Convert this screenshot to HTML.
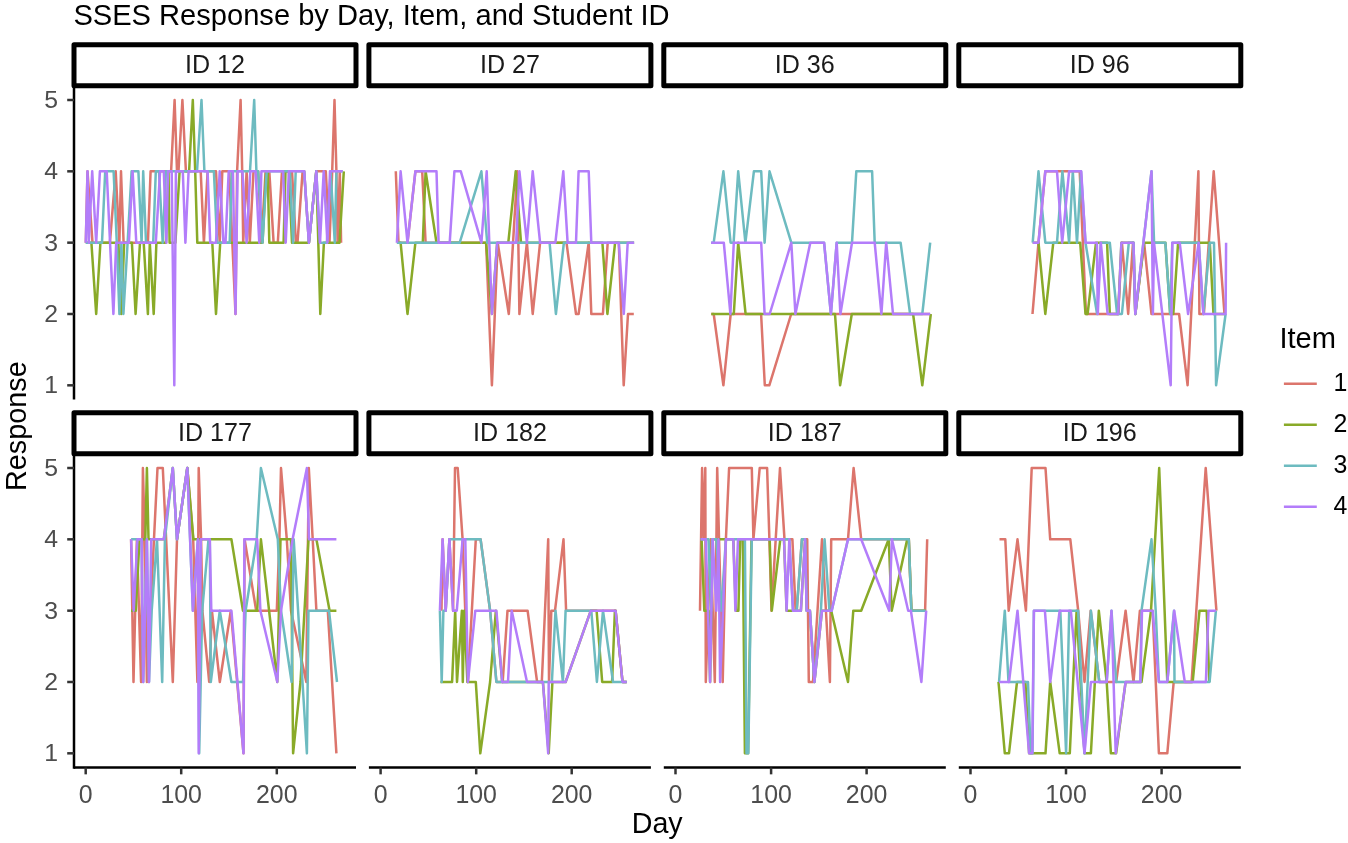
<!DOCTYPE html>
<html lang="en"><head><meta charset="utf-8"><title>SSES Response by Day, Item, and Student ID</title>
<style>html,body{margin:0;padding:0;background:#fff}svg{display:block}text{font-family:"Liberation Sans",Arial,sans-serif}</style></head><body>
<svg width="1348" height="843" viewBox="0 0 1348 843">
<rect width="1348" height="843" fill="#fff"/>
<text x="73.4" y="24.9" font-size="29.1" fill="#000">SSES Response by Day, Item, and Student ID</text>
<g fill="none" stroke-width="2.5" stroke-linejoin="round" stroke-linecap="butt">
<path d="M85.8 242.7 L87.5 171.3 L92.5 242.7 L109.9 242.7 L115.7 171.3 L119.4 242.7 L121.0 171.3 L123.6 242.7 L147.9 242.7 L150.6 171.3 L171.1 171.3 L174.6 100.0 L177.0 171.3 L178.5 171.3 L182.4 100.0 L185.9 171.3 L200.7 171.3 L203.9 242.7 L207.6 171.3 L216.0 171.3 L219.7 242.7 L222.3 171.3 L229.2 171.3 L235.5 314.0 L237.1 171.3 L240.6 100.0 L242.2 171.3 L243.2 242.7 L246.6 171.3 L249.8 242.7 L253.5 171.3 L258.2 171.3 L261.4 242.7 L265.6 171.3 L269.3 171.3 L273.6 242.7 L277.8 242.7 L282.0 171.3 L292.0 171.3 L295.9 242.7 L297.5 242.7 L302.6 171.3 L304.2 171.3 L308.9 242.7 L316.3 171.3 L325.8 171.3 L329.5 242.7 L332.2 171.3 L334.5 100.0 L336.4 171.3 L337.6 242.7 L339.8 171.3 L341.1 242.7" stroke="#DC756C"/>
<path d="M85.8 242.7 L91.4 242.7 L96.2 314.0 L100.4 242.7 L118.4 242.7 L121.2 314.0 L124.2 242.7 L131.9 242.7 L135.6 314.0 L140.0 242.7 L143.7 242.7 L147.9 314.0 L149.8 242.7 L153.7 314.0 L156.4 242.7 L165.9 242.7 L168.5 171.3 L169.6 242.7 L175.4 242.7 L179.6 171.3 L189.1 171.3 L192.8 100.0 L195.2 171.3 L197.3 242.7 L212.3 242.7 L216.0 314.0 L220.2 242.7 L262.5 242.7 L266.2 171.3 L267.7 171.3 L269.3 242.7 L283.6 242.7 L285.5 171.3 L288.9 171.3 L292.0 242.7 L308.9 242.7 L316.3 171.3 L320.3 314.0 L323.9 242.7 L339.5 242.7 L343.8 171.3" stroke="#89AA28"/>
<path d="M85.8 242.7 L102.0 242.7 L105.2 171.3 L113.6 171.3 L116.8 242.7 L119.4 314.0 L121.4 242.7 L123.4 314.0 L127.6 242.7 L131.6 171.3 L138.4 171.3 L141.6 242.7 L143.2 171.3 L146.0 242.7 L153.2 242.7 L155.8 171.3 L159.0 171.3 L162.7 242.7 L165.9 171.3 L197.0 171.3 L201.5 100.0 L204.4 171.3 L213.9 171.3 L217.1 242.7 L229.7 242.7 L231.8 171.3 L250.0 171.3 L254.2 100.0 L256.4 171.3 L258.2 171.3 L262.5 242.7 L266.7 171.3 L289.9 171.3 L293.1 242.7 L295.7 171.3 L304.2 171.3 L308.9 242.7 L316.3 171.3 L320.0 242.7 L326.9 242.7 L330.6 171.3 L334.8 242.7 L336.4 171.3 L342.7 171.3" stroke="#6DBBC0"/>
<path d="M85.8 242.7 L87.5 171.3 L88.8 242.7 L92.2 171.3 L96.2 242.7 L99.9 171.3 L106.7 171.3 L113.4 314.0 L116.2 242.7 L128.9 242.7 L132.6 171.3 L136.3 242.7 L155.8 242.7 L160.1 171.3 L163.8 171.3 L166.4 242.7 L168.0 171.3 L171.7 171.3 L174.3 385.3 L175.9 171.3 L182.8 171.3 L185.4 242.7 L188.6 171.3 L207.6 171.3 L210.2 242.7 L216.0 242.7 L219.7 171.3 L223.4 242.7 L225.5 242.7 L228.7 171.3 L232.9 171.3 L235.5 314.0 L237.6 171.3 L242.4 171.3 L246.6 242.7 L250.3 171.3 L255.6 171.3 L259.3 242.7 L261.4 171.3 L283.1 171.3 L285.7 242.7 L288.9 171.3 L304.2 171.3 L308.9 242.7 L316.3 171.3 L320.0 242.7 L323.7 171.3 L327.4 242.7 L330.0 171.3 L342.7 171.3" stroke="#B37DFA"/>
</g>
<g fill="none" stroke-width="2.5" stroke-linejoin="round" stroke-linecap="butt">
<path d="M395.8 171.3 L398.5 242.7 L407.5 242.7 L415.4 171.3 L422.2 171.3 L425.6 242.7 L486.1 242.7 L491.9 385.3 L497.7 242.7 L508.8 314.0 L517.3 171.3 L519.4 314.0 L526.9 242.7 L532.7 314.0 L540.1 242.7 L566.5 242.7 L576.0 314.0 L578.6 314.0 L588.7 242.7 L591.3 314.0 L602.9 314.0 L607.7 242.7 L618.8 242.7 L623.7 385.3 L628.0 314.0 L633.8 314.0" stroke="#DC756C"/>
<path d="M396.9 242.7 L400.6 242.7 L407.5 314.0 L415.4 242.7 L422.8 242.7 L425.6 171.3 L436.5 242.7 L486.1 242.7 L491.9 314.0 L497.2 242.7 L508.3 242.7 L515.7 171.3 L521.0 242.7 L602.4 242.7 L607.4 314.0 L615.1 242.7 L634.1 242.7" stroke="#89AA28"/>
<path d="M396.9 242.7 L459.7 242.7 L481.4 171.3 L487.2 242.7 L549.6 242.7 L555.9 314.0 L563.9 242.7 L634.1 242.7" stroke="#6DBBC0"/>
<path d="M396.9 242.7 L400.6 171.3 L407.5 242.7 L415.4 171.3 L436.5 171.3 L438.6 242.7 L449.7 242.7 L454.4 171.3 L460.8 171.3 L481.4 242.7 L486.7 171.3 L491.9 314.0 L497.2 242.7 L516.2 242.7 L519.4 171.3 L526.9 242.7 L532.7 171.3 L540.1 242.7 L555.4 242.7 L563.3 171.3 L567.6 242.7 L576.0 242.7 L578.6 171.3 L588.7 171.3 L591.3 242.7 L618.8 242.7 L623.8 314.0 L627.7 242.7 L634.1 242.7" stroke="#B37DFA"/>
</g>
<g fill="none" stroke-width="2.5" stroke-linejoin="round" stroke-linecap="butt">
<path d="M711.3 314.0 L713.7 314.0 L723.4 385.3 L730.7 314.0 L761.1 314.0 L764.8 385.3 L769.3 385.3 L791.2 314.0 L930.0 314.0" stroke="#DC756C"/>
<path d="M711.3 314.0 L733.8 314.0 L738.2 242.7 L745.6 314.0 L835.0 314.0 L840.1 385.3 L851.8 314.0 L913.1 314.0 L922.3 385.3 L930.8 314.0" stroke="#89AA28"/>
<path d="M711.1 242.7 L713.7 242.7 L723.4 171.3 L730.6 242.7 L733.6 242.7 L738.2 171.3 L745.4 242.7 L753.9 171.3 L761.2 171.3 L764.6 242.7 L769.5 171.3 L791.3 242.7 L824.1 242.7 L830.9 314.0 L836.7 242.7 L852.0 242.7 L856.3 171.3 L872.1 171.3 L874.7 242.7 L900.6 242.7 L910.1 314.0 L922.3 314.0 L930.2 242.7" stroke="#6DBBC0"/>
<path d="M711.1 242.7 L723.8 242.7 L730.4 314.0 L733.8 242.7 L761.2 242.7 L764.6 314.0 L769.7 314.0 L791.3 242.7 L795.4 314.0 L810.3 242.7 L824.1 242.7 L830.9 314.0 L836.7 242.7 L840.4 314.0 L840.4 314.0 L852.0 242.7 L874.7 242.7 L881.4 314.0 L886.2 242.7 L893.0 314.0 L930.2 314.0" stroke="#B37DFA"/>
</g>
<g fill="none" stroke-width="2.5" stroke-linejoin="round" stroke-linecap="butt">
<path d="M1032.5 314.0 L1038.5 242.7 L1045.3 171.3 L1079.7 171.3 L1086.0 314.0 L1118.2 314.0 L1121.9 242.7 L1128.2 314.0 L1133.0 242.7 L1135.3 314.0 L1144.1 242.7 L1151.5 314.0 L1151.5 314.0 L1179.1 314.0 L1187.6 385.3 L1198.4 171.3 L1199.4 314.0 L1203.9 314.0 L1213.7 171.3 L1224.5 314.0" stroke="#DC756C"/>
<path d="M1032.7 242.7 L1038.5 242.7 L1045.3 314.0 L1053.3 242.7 L1080.2 242.7 L1085.5 314.0 L1087.6 314.0 L1096.0 242.7 L1107.1 242.7 L1109.8 314.0 L1118.2 314.0 L1121.4 242.7 L1133.5 242.7 L1135.3 314.0 L1144.1 242.7 L1151.5 242.7 L1151.5 242.7 L1165.4 242.7 L1170.2 314.0 L1173.3 314.0 L1178.1 242.7 L1209.8 242.7 L1213.5 314.0 L1225.6 314.0" stroke="#89AA28"/>
<path d="M1032.7 242.7 L1038.5 171.3 L1045.3 242.7 L1057.0 242.7 L1062.4 171.3 L1069.1 242.7 L1072.8 171.3 L1077.0 242.7 L1081.0 171.3 L1085.5 242.7 L1097.1 314.0 L1100.8 242.7 L1109.8 242.7 L1117.1 314.0 L1121.9 314.0 L1128.8 242.7 L1133.5 242.7 L1135.3 314.0 L1151.5 171.3 L1151.5 171.3 L1154.1 242.7 L1165.4 242.7 L1170.2 314.0 L1172.3 242.7 L1198.7 242.7 L1203.4 314.0 L1209.8 242.7 L1214.0 242.7 L1216.1 385.3 L1225.6 314.0" stroke="#6DBBC0"/>
<path d="M1032.7 242.7 L1038.5 242.7 L1045.3 171.3 L1057.0 171.3 L1062.2 242.7 L1069.1 171.3 L1081.2 171.3 L1085.5 242.7 L1096.9 242.7 L1097.8 314.0 L1100.8 242.7 L1107.6 314.0 L1118.2 314.0 L1121.4 242.7 L1133.5 242.7 L1135.3 314.0 L1151.5 171.3 L1151.5 171.3 L1152.9 314.0 L1154.0 242.7 L1170.7 385.3 L1172.3 242.7 L1179.7 242.7 L1188.1 314.0 L1198.7 242.7 L1203.4 314.0 L1225.6 314.0 L1226.1 242.7" stroke="#B37DFA"/>
</g>
<g fill="none" stroke-width="2.5" stroke-linejoin="round" stroke-linecap="butt">
<path d="M131.1 539.3 L133.5 682.0 L136.9 539.3 L141.1 682.0 L142.9 468.0 L144.8 539.3 L146.9 682.0 L157.5 468.0 L162.8 468.0 L172.8 682.0 L177.0 539.3 L187.3 468.0 L193.2 539.3 L197.4 682.0 L198.7 468.0 L201.1 539.3 L202.4 610.7 L209.2 682.0 L211.9 610.7 L219.8 682.0 L230.8 610.7 L243.5 753.3 L244.6 539.3 L256.2 610.7 L276.8 610.7 L279.4 539.3 L281.0 468.0 L286.8 539.3 L291.0 610.7 L306.3 682.0 L308.8 468.0 L312.7 539.3 L316.4 610.7 L327.8 610.7 L336.4 753.3" stroke="#DC756C"/>
<path d="M131.1 610.7 L135.8 610.7 L139.5 539.3 L145.3 539.3 L146.9 468.0 L148.5 539.3 L163.8 539.3 L172.8 468.0 L177.0 539.3 L187.3 468.0 L193.4 539.3 L231.4 539.3 L243.0 610.7 L257.2 610.7 L260.9 539.3 L277.3 682.0 L280.5 539.3 L291.0 539.3 L293.1 753.3 L300.5 682.0 L308.5 539.3 L316.4 539.3 L329.6 610.7 L336.4 610.7" stroke="#89AA28"/>
<path d="M131.1 539.3 L141.6 539.3 L143.2 682.0 L146.9 539.3 L149.0 682.0 L151.7 610.7 L157.0 539.3 L162.2 682.0 L164.9 539.3 L172.8 468.0 L177.0 539.3 L187.3 468.0 L192.9 610.7 L197.9 539.3 L199.2 753.3 L202.2 610.7 L208.5 539.3 L209.8 539.3 L210.8 682.0 L219.8 610.7 L231.4 682.0 L243.0 682.0 L245.6 610.7 L256.7 539.3 L260.9 468.0 L277.8 539.3 L281.0 610.7 L291.6 682.0 L293.7 539.3 L306.9 753.3 L308.5 610.7 L329.0 610.7 L337.0 682.0" stroke="#6DBBC0"/>
<path d="M131.1 539.3 L133.7 610.7 L137.4 539.3 L141.6 539.3 L143.2 682.0 L146.9 539.3 L149.0 682.0 L151.2 539.3 L163.8 539.3 L172.8 468.0 L177.0 539.3 L187.3 468.0 L192.9 610.7 L197.9 539.3 L198.7 753.3 L200.8 539.3 L209.8 539.3 L211.3 610.7 L231.4 610.7 L243.5 753.3 L244.4 539.3 L257.2 539.3 L260.4 610.7 L277.3 682.0 L281.0 610.7 L292.6 539.3 L306.9 468.0 L309.0 539.3 L336.4 539.3" stroke="#B37DFA"/>
</g>
<g fill="none" stroke-width="2.5" stroke-linejoin="round" stroke-linecap="butt">
<path d="M441.5 610.7 L442.6 539.3 L445.7 610.7 L449.4 539.3 L453.1 610.7 L455.0 468.0 L457.7 468.0 L462.6 539.3 L467.9 682.0 L475.8 539.3 L480.6 539.3 L490.1 610.7 L496.4 682.0 L502.7 682.0 L507.5 610.7 L527.6 610.7 L537.1 682.0 L541.8 682.0 L548.2 539.3 L549.0 682.0 L551.3 610.7 L555.0 610.7 L563.5 539.3 L566.1 610.7 L615.6 610.7 L622.5 682.0 L626.7 682.0" stroke="#DC756C"/>
<path d="M440.4 682.0 L452.1 682.0 L455.2 610.7 L457.0 682.0 L461.9 610.7 L462.8 682.0 L464.2 610.7 L467.4 682.0 L475.8 682.0 L480.3 753.3 L490.1 682.0 L495.9 610.7 L502.2 682.0 L542.9 682.0 L548.7 753.3 L552.4 682.0 L565.6 682.0 L590.8 610.7 L596.6 610.7 L602.2 682.0 L612.1 682.0 L614.9 610.7 L615.6 610.7 L622.5 682.0 L626.7 682.0" stroke="#89AA28"/>
<path d="M439.9 610.7 L441.7 682.0 L443.4 610.7 L445.7 610.7 L449.4 539.3 L480.6 539.3 L490.1 610.7 L496.4 682.0 L551.9 682.0 L555.5 610.7 L562.9 682.0 L565.6 610.7 L591.3 610.7 L596.9 682.0 L603.0 610.7 L613.0 682.0 L626.7 682.0" stroke="#6DBBC0"/>
<path d="M439.9 610.7 L442.6 539.3 L445.7 610.7 L449.4 539.3 L453.1 610.7 L456.8 610.7 L462.6 539.3 L465.3 539.3 L467.9 682.0 L475.3 610.7 L496.4 610.7 L502.2 682.0 L508.0 682.0 L511.7 610.7 L527.0 682.0 L542.9 682.0 L548.2 753.3 L548.7 682.0 L565.6 682.0 L590.8 610.7 L615.6 610.7 L622.5 682.0 L626.7 682.0" stroke="#B37DFA"/>
</g>
<g fill="none" stroke-width="2.5" stroke-linejoin="round" stroke-linecap="butt">
<path d="M700.0 610.7 L702.1 468.0 L703.7 539.3 L705.3 468.0 L705.8 682.0 L710.6 539.3 L714.8 682.0 L717.2 468.0 L722.7 682.0 L725.9 539.3 L729.1 468.0 L751.8 468.0 L753.4 539.3 L759.7 468.0 L767.1 468.0 L769.4 539.3 L771.5 610.7 L775.7 539.3 L780.0 468.0 L784.5 539.3 L792.4 539.3 L795.6 610.7 L796.7 610.7 L801.9 539.3 L807.2 539.3 L808.8 682.0 L813.0 682.0 L822.0 539.3 L829.9 682.0 L831.2 539.3 L848.0 539.3 L853.6 468.0 L861.2 539.3 L908.8 539.3 L911.4 610.7 L925.1 610.7 L927.2 539.3" stroke="#DC756C"/>
<path d="M700.6 539.3 L701.6 539.3 L704.3 610.7 L708.5 610.7 L710.1 682.0 L712.7 539.3 L733.3 539.3 L735.9 610.7 L738.4 610.7 L740.2 539.3 L742.8 539.3 L744.9 753.3 L748.1 753.3 L751.5 539.3 L769.7 539.3 L771.8 610.7 L780.3 539.3 L784.0 539.3 L786.6 610.7 L800.9 610.7 L805.1 539.3 L806.7 610.7 L809.9 610.7 L814.4 682.0 L822.0 610.7 L831.2 610.7 L848.0 682.0 L853.3 610.7 L861.2 610.7 L888.7 539.3 L891.7 610.7 L907.2 539.3 L908.8 539.3 L911.4 610.7 L926.2 610.7" stroke="#89AA28"/>
<path d="M700.6 539.3 L708.5 539.3 L711.1 610.7 L712.2 539.3 L716.4 539.3 L721.2 610.7 L725.9 539.3 L744.9 539.3 L746.5 753.3 L748.3 753.3 L751.8 539.3 L789.3 539.3 L793.0 610.7 L796.7 610.7 L801.9 539.3 L805.1 539.3 L806.7 610.7 L809.9 610.7 L814.4 682.0 L820.9 610.7 L824.6 539.3 L829.4 610.7 L831.7 610.7 L848.0 539.3 L908.8 539.3 L911.4 610.7 L925.7 610.7" stroke="#6DBBC0"/>
<path d="M700.6 539.3 L705.8 539.3 L710.1 682.0 L712.7 539.3 L716.4 610.7 L718.5 539.3 L720.1 682.0 L725.9 539.3 L733.3 539.3 L735.4 610.7 L738.0 539.3 L784.0 539.3 L786.6 610.7 L789.3 539.3 L793.0 610.7 L800.9 610.7 L805.1 539.3 L806.7 610.7 L809.9 610.7 L814.4 682.0 L822.0 610.7 L831.7 610.7 L848.0 539.3 L861.2 539.3 L889.2 610.7 L891.9 539.3 L908.2 610.7 L910.9 610.7 L921.4 682.0 L926.2 610.7" stroke="#B37DFA"/>
</g>
<g fill="none" stroke-width="2.5" stroke-linejoin="round" stroke-linecap="butt">
<path d="M999.5 539.3 L1005.3 539.3 L1008.7 610.7 L1017.5 539.3 L1025.9 610.7 L1031.7 468.0 L1045.5 468.0 L1050.2 539.3 L1070.3 539.3 L1078.2 610.7 L1084.5 682.0 L1090.7 610.7 L1099.3 682.0 L1116.2 682.0 L1125.6 610.7 L1133.5 682.0 L1139.9 610.7 L1152.6 610.7 L1158.9 753.3 L1167.3 753.3 L1173.7 682.0 L1191.6 682.0 L1205.7 468.0 L1216.4 610.7" stroke="#DC756C"/>
<path d="M998.5 682.0 L1004.8 753.3 L1009.0 753.3 L1017.0 682.0 L1025.4 682.0 L1029.1 753.3 L1045.5 753.3 L1050.2 682.0 L1059.7 753.3 L1069.8 753.3 L1073.1 682.0 L1076.6 610.7 L1084.5 753.3 L1090.9 753.3 L1098.8 610.7 L1106.7 682.0 L1110.9 753.3 L1115.7 753.3 L1116.1 753.3 L1125.6 682.0 L1141.5 682.0 L1151.0 610.7 L1159.2 468.0 L1167.3 682.0 L1192.7 682.0 L1199.5 610.7 L1206.7 610.7 L1209.3 682.0" stroke="#89AA28"/>
<path d="M999.0 682.0 L1004.8 610.7 L1008.5 682.0 L1028.0 682.0 L1030.7 753.3 L1032.5 753.3 L1033.9 610.7 L1060.3 610.7 L1066.1 753.3 L1069.2 610.7 L1078.2 610.7 L1084.5 753.3 L1090.9 610.7 L1099.3 682.0 L1106.7 682.0 L1111.5 610.7 L1116.2 682.0 L1124.6 682.0 L1140.4 682.0 L1141.5 610.7 L1151.5 539.3 L1155.7 610.7 L1158.9 682.0 L1167.3 682.0 L1174.0 610.7 L1174.5 682.0 L1209.6 682.0 L1215.9 610.7" stroke="#6DBBC0"/>
<path d="M999.0 682.0 L1009.0 682.0 L1017.5 610.7 L1029.1 753.3 L1032.3 753.3 L1033.9 610.7 L1044.9 610.7 L1050.2 682.0 L1059.7 610.7 L1070.8 610.7 L1084.5 753.3 L1090.9 682.0 L1106.7 682.0 L1111.5 610.7 L1115.7 753.3 L1125.6 682.0 L1140.4 682.0 L1142.0 610.7 L1152.6 610.7 L1158.9 682.0 L1167.3 682.0 L1174.2 610.7 L1184.8 682.0 L1205.9 682.0 L1208.5 610.7 L1215.9 610.7" stroke="#B37DFA"/>
</g>
<line x1="74" x2="74" y1="85.75" y2="399.6" stroke="#000" stroke-width="2.5"/>
<line x1="67.2" x2="74" y1="385.32" y2="385.32" stroke="#333" stroke-width="2.5"/>
<text x="58.1" y="393.2" font-size="24.8" fill="#4D4D4D" text-anchor="end">1</text>
<line x1="67.2" x2="74" y1="313.99" y2="313.99" stroke="#333" stroke-width="2.5"/>
<text x="58.1" y="321.9" font-size="24.8" fill="#4D4D4D" text-anchor="end">2</text>
<line x1="67.2" x2="74" y1="242.66" y2="242.66" stroke="#333" stroke-width="2.5"/>
<text x="58.1" y="250.6" font-size="24.8" fill="#4D4D4D" text-anchor="end">3</text>
<line x1="67.2" x2="74" y1="171.33" y2="171.33" stroke="#333" stroke-width="2.5"/>
<text x="58.1" y="179.2" font-size="24.8" fill="#4D4D4D" text-anchor="end">4</text>
<line x1="67.2" x2="74" y1="100.00" y2="100.00" stroke="#333" stroke-width="2.5"/>
<text x="58.1" y="107.9" font-size="24.8" fill="#4D4D4D" text-anchor="end">5</text>
<line x1="74" x2="74" y1="453.75" y2="768.8" stroke="#000" stroke-width="2.5"/>
<line x1="67.2" x2="74" y1="753.32" y2="753.32" stroke="#333" stroke-width="2.5"/>
<text x="58.1" y="761.2" font-size="24.8" fill="#4D4D4D" text-anchor="end">1</text>
<line x1="67.2" x2="74" y1="681.99" y2="681.99" stroke="#333" stroke-width="2.5"/>
<text x="58.1" y="689.9" font-size="24.8" fill="#4D4D4D" text-anchor="end">2</text>
<line x1="67.2" x2="74" y1="610.66" y2="610.66" stroke="#333" stroke-width="2.5"/>
<text x="58.1" y="618.6" font-size="24.8" fill="#4D4D4D" text-anchor="end">3</text>
<line x1="67.2" x2="74" y1="539.33" y2="539.33" stroke="#333" stroke-width="2.5"/>
<text x="58.1" y="547.2" font-size="24.8" fill="#4D4D4D" text-anchor="end">4</text>
<line x1="67.2" x2="74" y1="468.00" y2="468.00" stroke="#333" stroke-width="2.5"/>
<text x="58.1" y="475.9" font-size="24.8" fill="#4D4D4D" text-anchor="end">5</text>
<line x1="74.0" x2="356.0" y1="767.55" y2="767.55" stroke="#000" stroke-width="2.5"/>
<line x1="85.7" x2="85.7" y1="767.55" y2="774.35" stroke="#333" stroke-width="2.5"/>
<text x="85.7" y="802.8" font-size="24.9" fill="#4D4D4D" text-anchor="middle">0</text>
<line x1="181.2" x2="181.2" y1="767.55" y2="774.35" stroke="#333" stroke-width="2.5"/>
<text x="181.2" y="802.8" font-size="24.9" fill="#4D4D4D" text-anchor="middle">100</text>
<line x1="276.8" x2="276.8" y1="767.55" y2="774.35" stroke="#333" stroke-width="2.5"/>
<text x="276.8" y="802.8" font-size="24.9" fill="#4D4D4D" text-anchor="middle">200</text>
<line x1="368.9" x2="650.9" y1="767.55" y2="767.55" stroke="#000" stroke-width="2.5"/>
<line x1="380.6" x2="380.6" y1="767.55" y2="774.35" stroke="#333" stroke-width="2.5"/>
<text x="380.6" y="802.8" font-size="24.9" fill="#4D4D4D" text-anchor="middle">0</text>
<line x1="476.2" x2="476.2" y1="767.55" y2="774.35" stroke="#333" stroke-width="2.5"/>
<text x="476.2" y="802.8" font-size="24.9" fill="#4D4D4D" text-anchor="middle">100</text>
<line x1="571.7" x2="571.7" y1="767.55" y2="774.35" stroke="#333" stroke-width="2.5"/>
<text x="571.7" y="802.8" font-size="24.9" fill="#4D4D4D" text-anchor="middle">200</text>
<line x1="663.8" x2="945.8" y1="767.55" y2="767.55" stroke="#000" stroke-width="2.5"/>
<line x1="675.5" x2="675.5" y1="767.55" y2="774.35" stroke="#333" stroke-width="2.5"/>
<text x="675.5" y="802.8" font-size="24.9" fill="#4D4D4D" text-anchor="middle">0</text>
<line x1="771.1" x2="771.1" y1="767.55" y2="774.35" stroke="#333" stroke-width="2.5"/>
<text x="771.1" y="802.8" font-size="24.9" fill="#4D4D4D" text-anchor="middle">100</text>
<line x1="866.6" x2="866.6" y1="767.55" y2="774.35" stroke="#333" stroke-width="2.5"/>
<text x="866.6" y="802.8" font-size="24.9" fill="#4D4D4D" text-anchor="middle">200</text>
<line x1="958.8" x2="1240.8" y1="767.55" y2="767.55" stroke="#000" stroke-width="2.5"/>
<line x1="970.5" x2="970.5" y1="767.55" y2="774.35" stroke="#333" stroke-width="2.5"/>
<text x="970.5" y="802.8" font-size="24.9" fill="#4D4D4D" text-anchor="middle">0</text>
<line x1="1066.0" x2="1066.0" y1="767.55" y2="774.35" stroke="#333" stroke-width="2.5"/>
<text x="1066.0" y="802.8" font-size="24.9" fill="#4D4D4D" text-anchor="middle">100</text>
<line x1="1161.6" x2="1161.6" y1="767.55" y2="774.35" stroke="#333" stroke-width="2.5"/>
<text x="1161.6" y="802.8" font-size="24.9" fill="#4D4D4D" text-anchor="middle">200</text>
<rect x="74.0" y="44.75" width="282.0" height="41.00" fill="#fff" stroke="#000" stroke-width="5" stroke-linejoin="round"/>
<text x="215.0" y="72.80" font-size="25.1" fill="#1A1A1A" text-anchor="middle">ID 12</text>
<rect x="368.9" y="44.75" width="282.0" height="41.00" fill="#fff" stroke="#000" stroke-width="5" stroke-linejoin="round"/>
<text x="509.9" y="72.80" font-size="25.1" fill="#1A1A1A" text-anchor="middle">ID 27</text>
<rect x="663.8" y="44.75" width="282.0" height="41.00" fill="#fff" stroke="#000" stroke-width="5" stroke-linejoin="round"/>
<text x="804.8" y="72.80" font-size="25.1" fill="#1A1A1A" text-anchor="middle">ID 36</text>
<rect x="958.8" y="44.75" width="282.0" height="41.00" fill="#fff" stroke="#000" stroke-width="5" stroke-linejoin="round"/>
<text x="1099.8" y="72.80" font-size="25.1" fill="#1A1A1A" text-anchor="middle">ID 96</text>
<rect x="74.0" y="412.75" width="282.0" height="41.00" fill="#fff" stroke="#000" stroke-width="5" stroke-linejoin="round"/>
<text x="215.0" y="440.80" font-size="25.1" fill="#1A1A1A" text-anchor="middle">ID 177</text>
<rect x="368.9" y="412.75" width="282.0" height="41.00" fill="#fff" stroke="#000" stroke-width="5" stroke-linejoin="round"/>
<text x="509.9" y="440.80" font-size="25.1" fill="#1A1A1A" text-anchor="middle">ID 182</text>
<rect x="663.8" y="412.75" width="282.0" height="41.00" fill="#fff" stroke="#000" stroke-width="5" stroke-linejoin="round"/>
<text x="804.8" y="440.80" font-size="25.1" fill="#1A1A1A" text-anchor="middle">ID 187</text>
<rect x="958.8" y="412.75" width="282.0" height="41.00" fill="#fff" stroke="#000" stroke-width="5" stroke-linejoin="round"/>
<text x="1099.8" y="440.80" font-size="25.1" fill="#1A1A1A" text-anchor="middle">ID 196</text>
<text x="657.2" y="832.7" font-size="28.6" fill="#000" text-anchor="middle">Day</text>
<text transform="translate(26.2,426.2) rotate(-90)" font-size="28.8" fill="#000" text-anchor="middle">Response</text>
<text x="1279.4" y="347.5" font-size="29.1" fill="#000">Item</text>
<line x1="1283.9" x2="1316.8" y1="383.75" y2="383.75" stroke="#DC756C" stroke-width="2.5"/>
<text x="1333.4" y="391.35" font-size="24.9" fill="#000">1</text>
<line x1="1283.9" x2="1316.8" y1="424.75" y2="424.75" stroke="#89AA28" stroke-width="2.5"/>
<text x="1333.4" y="432.35" font-size="24.9" fill="#000">2</text>
<line x1="1283.9" x2="1316.8" y1="465.75" y2="465.75" stroke="#6DBBC0" stroke-width="2.5"/>
<text x="1333.4" y="473.35" font-size="24.9" fill="#000">3</text>
<line x1="1283.9" x2="1316.8" y1="506.75" y2="506.75" stroke="#B37DFA" stroke-width="2.5"/>
<text x="1333.4" y="514.35" font-size="24.9" fill="#000">4</text>
</svg></body></html>
